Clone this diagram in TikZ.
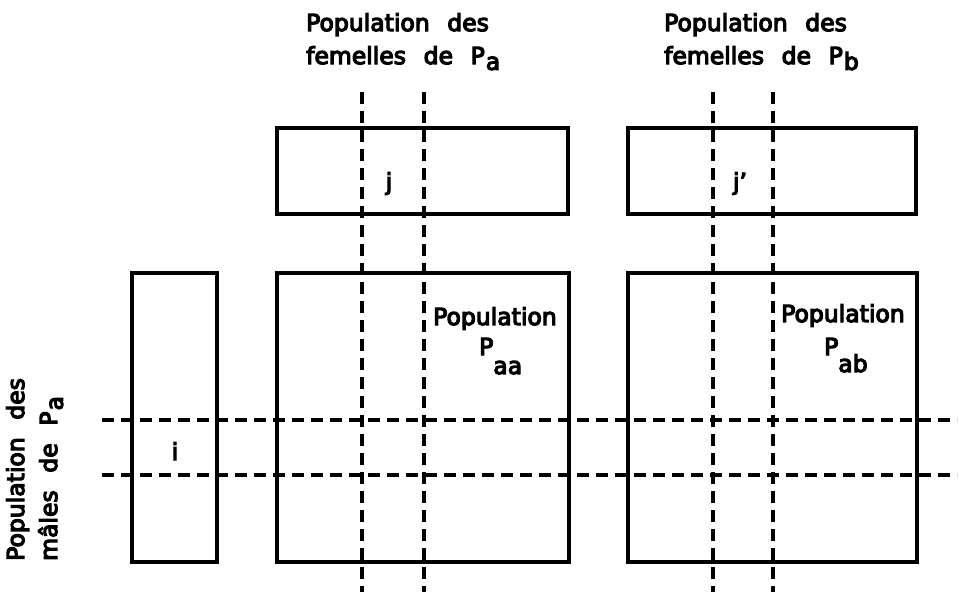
\documentclass[tikz,border=0pt]{standalone}
\usepackage{fontspec}
\newfontfamily\lblfont{DejaVu Sans}[FakeBold=5]
\newcommand{\wsp}{\hspace{0.75em}}
\begin{document}
\begin{tikzpicture}[x=1pt,y=-1pt,
  box/.style={draw,line width=4pt,minimum width=#1,inner sep=0pt},
  dashln/.style={line width=3.4pt,dash pattern=on 12pt off 7pt},
  lbl/.style={inner sep=0pt,font=\lblfont\fontsize{23.5}{33}\selectfont},
  every node/.style={inner sep=0pt}]
\useasboundingbox (0,0) rectangle (961,595);
% rectangles
\node[box=291pt,minimum height=86pt] (fa) at (422.5,171) {};
\node[box=288pt,minimum height=86pt] (fb) at (772,171) {};
\node[box=85pt,minimum height=289pt] (ma) at (174.5,417.5) {};
\node[box=292pt,minimum height=289pt] (paa) at (423,417.5) {};
\node[box=289pt,minimum height=289pt] (pab) at (772.5,417.5) {};
% dashed lines
\coordinate (v1t) at (362,92);  \coordinate (v1b) at (362,592);
\coordinate (v2t) at (424,92);  \coordinate (v2b) at (424,592);
\coordinate (v3t) at (713,92);  \coordinate (v3b) at (713,592);
\coordinate (v4t) at (773,92);  \coordinate (v4b) at (773,592);
\coordinate (h1l) at (102,420); \coordinate (h1r) at (957,420);
\coordinate (h2l) at (102,475); \coordinate (h2r) at (957,475);
\draw[dashln] (v1t) -- (v1b);
\draw[dashln] (v2t) -- (v2b);
\draw[dashln] (v3t) -- (v3b);
\draw[dashln] (v4t) -- (v4b);
\draw[dashln] (h1l) -- (h1r);
\draw[dashln] (h2l) -- (h2r);
% labels
\node[lbl,align=left,anchor=north west] (ta) at (306,13)
  {Population\wsp des\\femelles\wsp de\wsp P\hspace{1pt}\raisebox{-0.45ex}{a}};
\node[lbl,align=left,anchor=north west] (tb) at (664,13)
  {Population\wsp des\\femelles\wsp de\wsp P\hspace{1pt}\raisebox{-0.45ex}{b}};
\node[lbl,align=left,anchor=north west,rotate=90] (tm) at (6,561)
  {Population\wsp des\\mâles\wsp de\wsp P\hspace{1pt}\raisebox{-0.45ex}{a}};
\node[lbl,anchor=base] (j) at (389,190) {j};
\node[lbl,anchor=base] (jp) at (740,190) {j’};
\node[lbl,anchor=base] (i) at (175,460) {i};
\node[lbl,anchor=base west] (p1) at (433,325) {Population};
\node[lbl,anchor=base west] (p1s) at (479,355) {P\raisebox{-19pt}{aa}};
\node[lbl,anchor=base west] (p2) at (781,322) {Population};
\node[lbl,anchor=base west] (p2s) at (824,355) {P\raisebox{-17pt}{ab}};
\end{tikzpicture}
\end{document}
